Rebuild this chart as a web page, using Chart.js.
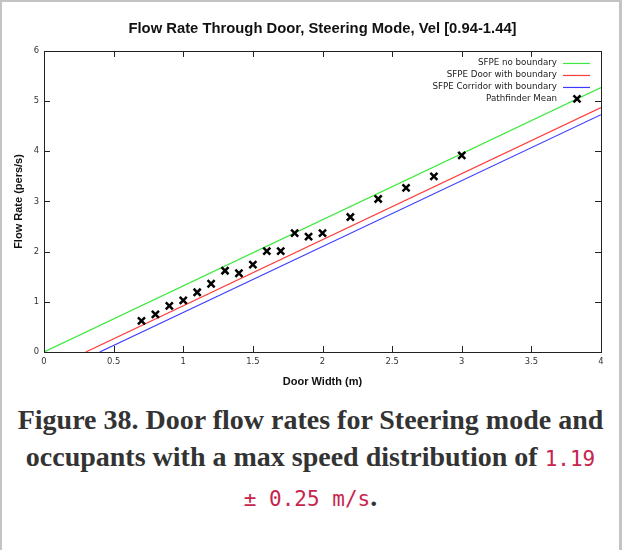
<!DOCTYPE html>
<html>
<head>
<meta charset="utf-8">
<script src="https://cdn.jsdelivr.net/npm/chart.js@4.4.0/dist/chart.umd.min.js"></script>
<style>
  html, body { margin: 0; padding: 0; background: #fff; }
  body { width: 624px; height: 550px; position: relative; overflow: hidden; }
  #frame { position: absolute; left: 0; top: 0; width: 622px; height: 600px; box-sizing: border-box;
           border: 2px solid #c4c4c4; border-right-width: 3px; pointer-events: none; }
  #plot { position: absolute; left: 0; top: 0; width: 624px; height: 395px; }
  #caption { position: absolute; left: 0; top: 401px; width: 621px; text-align: center;
             font-family: "Liberation Serif", serif; font-weight: bold; font-size: 28px;
             line-height: 37px; color: #333; }
  #caption code { font-family: "DejaVu Sans Mono", monospace; font-weight: normal; font-size: 21px; color: #c7254e; }
</style>
</head>
<body>
<div id="plot"><canvas id="mycanvas"></canvas></div>
<div id="caption">Figure 38. Door flow rates for Steering mode and<br>occupants with a max speed distribution of <code>1.19<br>± 0.25 m/s</code>.</div>
<div id="frame"></div>
<script>
// door widths (m) and measured Pathfinder mean flow (pers/s)
const doorWidths = [0.7, 0.8, 0.9, 1.0, 1.1, 1.2, 1.3, 1.4, 1.5, 1.6, 1.7, 1.8, 1.9, 2.0, 2.2, 2.4, 2.6, 2.8, 3.0];
const pathfinderMean = [0.62, 0.75, 0.92, 1.03, 1.19, 1.36, 1.62, 1.57, 1.74, 2.01, 2.01, 2.37, 2.30, 2.37, 2.69, 3.05, 3.27, 3.50, 3.92];

// SFPE lines, end points
const noBoundaryX = [0, 4];
const noBoundaryY = [0, 5.27];
const doorBoundaryX = [0.3, 4];
const doorBoundaryY = [0, 4.87];
const corridorBoundaryX = [0.4, 4];
const corridorBoundaryY = [0, 4.73];

const seriesNames = ['SFPE no boundary', 'SFPE Door with boundary', 'SFPE Corridor with boundary', 'Pathfinder Mean'];
const seriesColors = ['#3fe83f', '#ff3c3c', '#3c3cff', '#000000'];

const xTicks = [0, 0.5, 1, 1.5, 2, 2.5, 3, 3.5, 4];
const xTickLabels = ['0', '0.5', '1', '1.5', '2', '2.5', '3', '3.5', '4'];
const yTickLabels = ['0', '1', '2', '3', '4', '5', '6'];

function pairs(xs, ys) {
  return xs.map((v, i) => ({x: v, y: ys[i]}));
}

// gnuplot style box with inward ticks on all four sides
const boxTicks = {
  id: 'boxTicks',
  afterDatasetsDraw(chart) {
    const {ctx, chartArea: a, scales: {x, y}} = chart;
    ctx.save();
    ctx.strokeStyle = '#222';
    ctx.lineWidth = 1;
    ctx.beginPath();
    x.ticks.forEach(t => {
      const px = Math.round(x.getPixelForValue(t.value)) + 0.5;
      ctx.moveTo(px, a.bottom); ctx.lineTo(px, a.bottom - 6);
      ctx.moveTo(px, a.top); ctx.lineTo(px, a.top + 6);
    });
    y.ticks.forEach(t => {
      const py = Math.round(y.getPixelForValue(t.value)) + 0.5;
      ctx.moveTo(a.left, py); ctx.lineTo(a.left + 6, py);
      ctx.moveTo(a.right, py); ctx.lineTo(a.right - 6, py);
    });
    ctx.stroke();
    ctx.strokeRect(Math.round(a.left) + 0.5, Math.round(a.top) + 0.5, Math.round(a.width), Math.round(a.height));
    ctx.restore();
  }
};

// key in the top right corner of the plot
const keyBox = {
  id: 'keyBox',
  afterDraw(chart) {
    const {ctx, chartArea: a} = chart;
    ctx.save();
    ctx.font = '8.7px "DejaVu Sans"';
    ctx.textAlign = 'right';
    ctx.textBaseline = 'middle';
    seriesNames.forEach((name, i) => {
      const ry = a.top + 12 + i * 12;
      ctx.fillStyle = '#222';
      ctx.fillText(name, a.right - 44, ry);
      ctx.strokeStyle = seriesColors[i];
      ctx.beginPath();
      if (i < 3) {
        ctx.lineWidth = 1.2;
        ctx.moveTo(a.right - 38, ry + 0.5);
        ctx.lineTo(a.right - 11, ry + 0.5);
      } else {
        const cx = a.right - 24;
        ctx.lineWidth = 2.5;
        ctx.moveTo(cx - 3.5, ry - 3.5); ctx.lineTo(cx + 3.5, ry + 3.5);
        ctx.moveTo(cx + 3.5, ry - 3.5); ctx.lineTo(cx - 3.5, ry + 3.5);
      }
      ctx.stroke();
    });
    ctx.restore();
  }
};

const chrt = document.getElementById('mycanvas').getContext('2d');
new Chart(chrt, {
  type: 'scatter',
  data: {
    datasets: [
      {label: seriesNames[0], data: pairs(noBoundaryX, noBoundaryY), showLine: true, pointRadius: 0,
       borderColor: seriesColors[0], borderWidth: 1.2, order: 2},
      {label: seriesNames[1], data: pairs(doorBoundaryX, doorBoundaryY), showLine: true, pointRadius: 0,
       borderColor: seriesColors[1], borderWidth: 1.2, order: 2},
      {label: seriesNames[2], data: pairs(corridorBoundaryX, corridorBoundaryY), showLine: true, pointRadius: 0,
       borderColor: seriesColors[2], borderWidth: 1.2, order: 2},
      {label: seriesNames[3], data: pairs(doorWidths, pathfinderMean), pointStyle: 'crossRot', pointRadius: 5,
       borderColor: seriesColors[3], backgroundColor: seriesColors[3], pointBorderWidth: 2.5, order: 1}
    ]
  },
  options: {
    responsive: true,
    maintainAspectRatio: false,
    animation: false,
    layout: {padding: {left: 0, right: 23, top: 0, bottom: 0}},
    plugins: {
      legend: {display: false},
      tooltip: {enabled: false},
      title: {
        display: true,
        fullSize: false,
        text: 'Flow Rate Through Door, Steering Mode, Vel [0.94-1.44]',
        color: '#111',
        font: {family: '"Liberation Sans", Arial, sans-serif', size: 14.8, weight: 'bold', lineHeight: 1.2},
        padding: {top: 20, bottom: 13.2}
      }
    },
    scales: {
      x: {
        type: 'linear', min: 0, max: 4,
        afterFit: s => { s.height = 43; },
        afterBuildTicks: s => { s.ticks = xTicks.map(v => ({value: v})); },
        grid: {display: false, drawTicks: false},
        border: {display: false},
        ticks: {
          padding: 5, color: '#333', autoSkip: false, maxRotation: 0,
          font: {family: '"DejaVu Sans"', size: 8.4},
          callback: (v, i) => xTickLabels[i]
        },
        title: {
          display: true, text: 'Door Width (m)', color: '#111',
          font: {family: '"Liberation Sans", Arial, sans-serif', size: 11, weight: 'bold'},
          padding: {top: 0, bottom: 6}
        }
      },
      y: {
        type: 'linear', min: 0, max: 6,
        afterFit: s => { s.width = 44; },
        grid: {display: false, drawTicks: false},
        border: {display: false},
        ticks: {
          stepSize: 1, padding: 5, color: '#333',
          font: {family: '"DejaVu Sans"', size: 8.4},
          callback: (v, i) => yTickLabels[i]
        },
        title: {
          display: true, text: 'Flow Rate (pers/s)', color: '#111',
          font: {family: '"Liberation Sans", Arial, sans-serif', size: 11, weight: 'bold'},
          padding: {top: 12, bottom: 0}
        }
      }
    }
  },
  plugins: [boxTicks, keyBox]
});
</script>
</body>
</html>
